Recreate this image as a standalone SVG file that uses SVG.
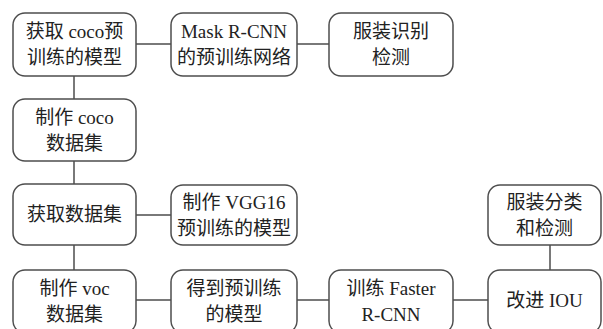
<svg xmlns="http://www.w3.org/2000/svg" width="603" height="329" viewBox="0 0 603 329">
<style>
.box{fill:#fff;stroke:#4d4d4d;stroke-width:1.5}
.t{font-family:"Liberation Serif","Noto Sans CJK SC",serif;font-size:19px;fill:#222;text-anchor:middle}
.c{stroke:#4d4d4d;stroke-width:1.5;fill:none}
</style>
<rect width="603" height="329" fill="#fff"/>
<g id="connectors">
<line class="c" x1="136" y1="44" x2="171" y2="44"/>
<line class="c" x1="297" y1="44" x2="329" y2="44"/>
<line class="c" x1="74" y1="76" x2="74" y2="99"/>
<line class="c" x1="74" y1="161" x2="74" y2="184"/>
<line class="c" x1="136" y1="215" x2="171" y2="215"/>
<line class="c" x1="74" y1="245" x2="74" y2="270"/>
<line class="c" x1="136" y1="300" x2="171" y2="300"/>
<line class="c" x1="297" y1="300" x2="329" y2="300"/>
<line class="c" x1="453" y1="300" x2="488" y2="300"/>
<line class="c" x1="550" y1="245" x2="550" y2="270"/>
</g>
<g id="n1"><rect class="box" x="13" y="13" width="123" height="63" rx="12"/><text class="t" x="74.5" y="38">获取 coco预</text><text class="t" x="74.5" y="64">训练的模型</text></g>
<g id="n2"><rect class="box" x="171" y="13" width="126" height="63" rx="12"/><text class="t" x="234" y="38">Mask R-CNN</text><text class="t" x="234" y="64">的预训练网络</text></g>
<g id="n3"><rect class="box" x="329" y="13" width="124" height="63" rx="12"/><text class="t" x="391" y="38">服装识别</text><text class="t" x="391" y="64">检测</text></g>
<g id="n4"><rect class="box" x="13" y="99" width="123" height="62" rx="12"/><text class="t" x="74.5" y="124">制作 coco</text><text class="t" x="74.5" y="150">数据集</text></g>
<g id="n5"><rect class="box" x="13" y="184" width="123" height="61" rx="12"/><text class="t" x="74.5" y="221">获取数据集</text></g>
<g id="n6"><rect class="box" x="171" y="185" width="126" height="60" rx="12"/><text class="t" x="234" y="209">制作 VGG16</text><text class="t" x="234" y="235">预训练的模型</text></g>
<g id="n7"><rect class="box" x="13" y="270" width="123" height="63" rx="12"/><text class="t" x="74.5" y="295">制作 voc</text><text class="t" x="74.5" y="321">数据集</text></g>
<g id="n8"><rect class="box" x="171" y="270" width="126" height="63" rx="12"/><text class="t" x="234" y="295">得到预训练</text><text class="t" x="234" y="321">的模型</text></g>
<g id="n9"><rect class="box" x="329" y="270" width="124" height="63" rx="12"/><text class="t" x="391" y="295">训练 Faster</text><text class="t" x="391" y="321">R-CNN</text></g>
<g id="n10"><rect class="box" x="488" y="270" width="113" height="63" rx="12"/><text class="t" x="544.5" y="307">改进 IOU</text></g>
<g id="n11"><rect class="box" x="488" y="185" width="113" height="60" rx="12"/><text class="t" x="544.5" y="209">服装分类</text><text class="t" x="544.5" y="235">和检测</text></g>
</svg>
